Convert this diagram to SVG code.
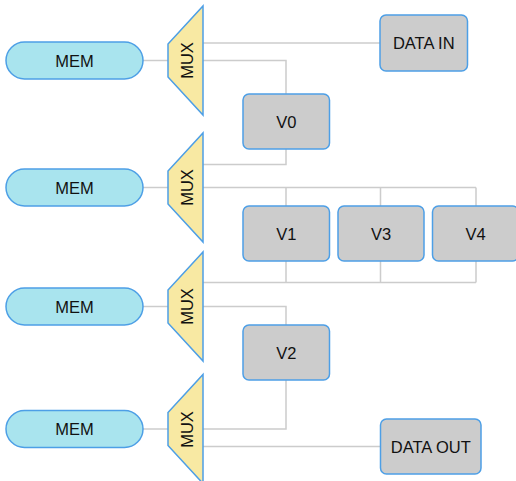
<svg xmlns="http://www.w3.org/2000/svg" width="516" height="481" viewBox="0 0 516 481">
<style>
.ln{fill:none;stroke:#cccccc;stroke-width:1.5}
.box{fill:#cccccc;stroke:#4d9fe6;stroke-width:1.5}
.mem{fill:#a9e4ee;stroke:#4d9fe6;stroke-width:1.5}
.mux{fill:#f8e9a3;stroke:#4d9fe6;stroke-width:1.5}
text{font-family:"Liberation Sans",Arial,sans-serif;font-size:16.5px;fill:#111;text-anchor:middle;dominant-baseline:central}
</style>
<rect width="516" height="481" fill="#fff"/>
<g id="connectors">
<path class="ln" d="M143,60.5H168"/>
<path class="ln" d="M203,43H380"/>
<path class="ln" d="M203,60.5H286V94"/>
<path class="ln" d="M143,187.5H168"/>
<path class="ln" d="M286,149V164.5H203"/>
<path class="ln" d="M203,187.5H476"/>
<path class="ln" d="M286,187.5V206M380.5,187.5V206M476,187.5V206"/>
<path class="ln" d="M286,261V282.5M380.5,261V282.5M476,261V282.5M203,282.5H476"/>
<path class="ln" d="M143,306.5H168"/>
<path class="ln" d="M203,306.5H286V325"/>
<path class="ln" d="M286,380V429H203"/>
<path class="ln" d="M143,429H168"/>
<path class="ln" d="M203,446.5H380.5"/>
</g>
<g id="mem1"><rect class="mem" x="6" y="42" width="137" height="37" rx="18.5"/><text x="74.5" y="60.5">MEM</text></g>
<g id="mem2"><rect class="mem" x="6" y="169" width="137" height="37" rx="18.5"/><text x="74.5" y="187.5">MEM</text></g>
<g id="mem3"><rect class="mem" x="6" y="288" width="137" height="37" rx="18.5"/><text x="74.5" y="306.5">MEM</text></g>
<g id="mem4"><rect class="mem" x="6" y="410.5" width="137" height="37" rx="18.5"/><text x="74.5" y="429">MEM</text></g>
<g id="mux1"><polygon class="mux" points="203,6 203,115 168,77 168,44"/><text transform="translate(186.5,60.5) rotate(-90)">MUX</text></g>
<g id="mux2"><polygon class="mux" points="203,133 203,242 168,204 168,171"/><text transform="translate(186.5,187.5) rotate(-90)">MUX</text></g>
<g id="mux3"><polygon class="mux" points="203,252 203,361 168,323 168,290"/><text transform="translate(186.5,306.5) rotate(-90)">MUX</text></g>
<g id="mux4"><polygon class="mux" points="203,374.5 203,483.5 168,445.5 168,412.5"/><text transform="translate(186.5,429.5) rotate(-90)">MUX</text></g>
<g id="datain"><rect class="box" x="380" y="15" width="87.5" height="56" rx="6"/><text x="423.75" y="43">DATA IN</text></g>
<g id="v0"><rect class="box" x="243" y="94" width="86.5" height="55" rx="6"/><text x="286.25" y="121.5">V0</text></g>
<g id="v1"><rect class="box" x="243" y="206" width="86.5" height="55" rx="6"/><text x="286.25" y="233.5">V1</text></g>
<g id="v3"><rect class="box" x="338" y="206" width="86" height="55" rx="6"/><text x="381" y="233.5">V3</text></g>
<g id="v4"><rect class="box" x="432.5" y="206" width="86" height="55" rx="6"/><text x="475.5" y="233.5">V4</text></g>
<g id="v2"><rect class="box" x="243" y="325" width="86.5" height="55" rx="6"/><text x="286.25" y="352.5">V2</text></g>
<g id="dataout"><rect class="box" x="380.5" y="419" width="100.5" height="55" rx="6"/><text x="430.75" y="446.5">DATA OUT</text></g>
</svg>
